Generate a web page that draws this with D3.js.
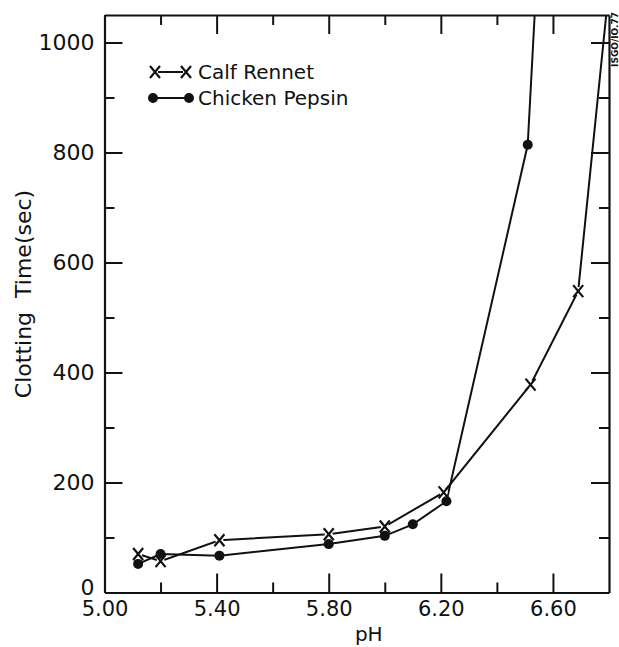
<!DOCTYPE html>
<html>
<head>
<meta charset="utf-8">
<script src="https://cdn.jsdelivr.net/npm/d3@7"></script>
<style>
  body { margin: 0; background: #fff; }
  svg text { font-family: "DejaVu Sans", sans-serif; fill: #111; }
</style>
</head>
<body>
<script>
const width = 619, height = 647;
const margin = {top: 15, right: 10, bottom: 55, left: 104.5};

// pH values and clotting times
const rennetPH   = [5.12, 5.20, 5.41, 5.80, 6.00, 6.21, 6.52, 6.69, 6.80];
const rennetTime = [70, 57, 95, 106, 120, 182, 378, 548, 1100];
const pepsinPH   = [5.12, 5.20, 5.41, 5.80, 6.00, 6.10, 6.22, 6.51, 6.54];
const pepsinTime = [52, 70, 67, 88, 103, 124, 166, 814, 1100];

// axis ticks
const xMajor = [5.00, 5.40, 5.80, 6.20, 6.60];
const xMinor = [5.20, 5.60, 6.00, 6.40];
const yMajor = [0, 200, 400, 600, 800, 1000];
const yMinor = [100, 300, 500, 700, 900];

const x = d3.scaleLinear().domain([5.00, 6.80]).range([margin.left, width - margin.right]);
const y = d3.scaleLinear().domain([0, 1050]).range([height - margin.bottom + 0.5, margin.top]);

const svg = d3.select("body").append("svg")
    .attr("width", width)
    .attr("height", height);

svg.append("defs").append("clipPath").attr("id", "plot")
  .append("rect")
    .attr("x", x.range()[0]).attr("y", y.range()[1])
    .attr("width", x.range()[1] - x.range()[0])
    .attr("height", y.range()[0] - y.range()[1]);

// axes: ticks point inward on all four sides
function styleAxis(g) {
  g.selectAll("path.domain").attr("stroke", "#111").attr("stroke-width", 2.2);
  g.selectAll(".tick line").attr("stroke", "#111").attr("stroke-width", 2);
  g.attr("font-family", null);
}

const by = y.range()[0], ty = y.range()[1], lx = x.range()[0], rx = x.range()[1];

svg.append("g").attr("transform", `translate(0,${by})`)
    .call(d3.axisBottom(x).tickValues(xMajor).tickSize(-19).tickSizeOuter(0).tickPadding(9).tickFormat(d3.format(".2f")))
    .call(styleAxis)
    .call(g => g.selectAll("text").attr("font-size", 21));
svg.append("g").attr("transform", `translate(0,${by})`)
    .call(d3.axisBottom(x).tickValues(xMinor).tickSize(-10).tickFormat(""))
    .call(styleAxis).call(g => g.select(".domain").remove());

svg.append("g").attr("transform", `translate(0,${ty})`)
    .call(d3.axisTop(x).tickValues(xMajor).tickSize(-19).tickSizeOuter(0).tickFormat(""))
    .call(styleAxis);
svg.append("g").attr("transform", `translate(0,${ty})`)
    .call(d3.axisTop(x).tickValues(xMinor).tickSize(-10).tickFormat(""))
    .call(styleAxis).call(g => g.select(".domain").remove());

svg.append("g").attr("transform", `translate(${lx},0)`)
    .call(d3.axisLeft(y).tickValues(yMajor).tickSize(-18).tickSizeOuter(0).tickPadding(10).tickFormat(d3.format("d")))
    .call(styleAxis)
    .call(g => g.selectAll("text").attr("font-size", 22))
    .call(g => g.selectAll(".tick").filter(d => d === 0).select("line").remove())
    .call(g => g.selectAll(".tick").filter(d => d === 0).select("text").attr("y", -5));
svg.append("g").attr("transform", `translate(${lx},0)`)
    .call(d3.axisLeft(y).tickValues(yMinor).tickSize(-10).tickFormat(""))
    .call(styleAxis).call(g => g.select(".domain").remove());

svg.append("g").attr("transform", `translate(${rx},0)`)
    .call(d3.axisRight(y).tickValues(yMajor).tickSize(-18).tickSizeOuter(0).tickFormat(""))
    .call(styleAxis);
svg.append("g").attr("transform", `translate(${rx},0)`)
    .call(d3.axisRight(y).tickValues(yMinor).tickSize(-10).tickFormat(""))
    .call(styleAxis).call(g => g.select(".domain").remove());

// axis titles
svg.append("text")
    .attr("x", (lx + rx) / 2 + 12).attr("y", 641)
    .attr("text-anchor", "middle").attr("font-size", 20)
    .text("pH");
svg.append("text")
    .attr("transform", "translate(31,294) rotate(-90)")
    .attr("text-anchor", "middle").attr("font-size", 22)
    .style("white-space", "pre")
    .text("Clotting  Time(sec)");
svg.append("text")
    .attr("transform", "translate(618,12) rotate(-90)")
    .attr("text-anchor", "end").attr("font-size", 9).attr("font-weight", "bold")
    .text("ISGO/IO.77");

// series
const rennet = rennetPH.map((p, i) => ({ph: p, t: rennetTime[i]}));
const pepsin = pepsinPH.map((p, i) => ({ph: p, t: pepsinTime[i]}));

const line = d3.line().x(d => x(d.ph)).y(d => y(d.t));
const plot = svg.append("g").attr("clip-path", "url(#plot)");

plot.append("path").datum(rennet)
    .attr("d", line).attr("fill", "none").attr("stroke", "#111").attr("stroke-width", 2);
plot.append("path").datum(pepsin)
    .attr("d", line).attr("fill", "none").attr("stroke", "#111").attr("stroke-width", 2);

function cross(g, cx, cy) {
  g.append("path")
      .attr("d", `M${cx - 5},${cy - 6}L${cx + 5},${cy + 6}M${cx + 5},${cy - 6}L${cx - 5},${cy + 6}`)
      .attr("stroke", "#111").attr("stroke-width", 2.2).attr("fill", "none");
}

// white halo behind the crosses, like the hand-inked original
plot.selectAll("circle.halo").data(rennet.filter(d => d.t < 1050))
  .enter().append("circle")
    .attr("cx", d => x(d.ph)).attr("cy", d => y(d.t)).attr("r", 4)
    .attr("fill", "#fff");
rennet.filter(d => d.t < 1050).forEach(d => cross(plot, x(d.ph), y(d.t)));

plot.selectAll("circle.dot").data(pepsin.filter(d => d.t < 1050))
  .enter().append("circle")
    .attr("cx", d => x(d.ph)).attr("cy", d => y(d.t)).attr("r", 5)
    .attr("fill", "#111");

// legend
const legend = svg.append("g");
legend.append("line").attr("x1", 158).attr("x2", 183).attr("y1", 72).attr("y2", 72)
    .attr("stroke", "#111").attr("stroke-width", 2);
cross(legend, 155, 72);
cross(legend, 186, 72);
legend.append("text").attr("x", 198).attr("y", 79).attr("font-size", 20).text("Calf Rennet");

legend.append("line").attr("x1", 153).attr("x2", 189).attr("y1", 98).attr("y2", 98)
    .attr("stroke", "#111").attr("stroke-width", 2);
legend.selectAll("circle").data([153, 189]).enter().append("circle")
    .attr("cx", d => d).attr("cy", 98).attr("r", 5).attr("fill", "#111");
legend.append("text").attr("x", 198).attr("y", 105).attr("font-size", 20).text("Chicken Pepsin");
</script>
</body>
</html>
